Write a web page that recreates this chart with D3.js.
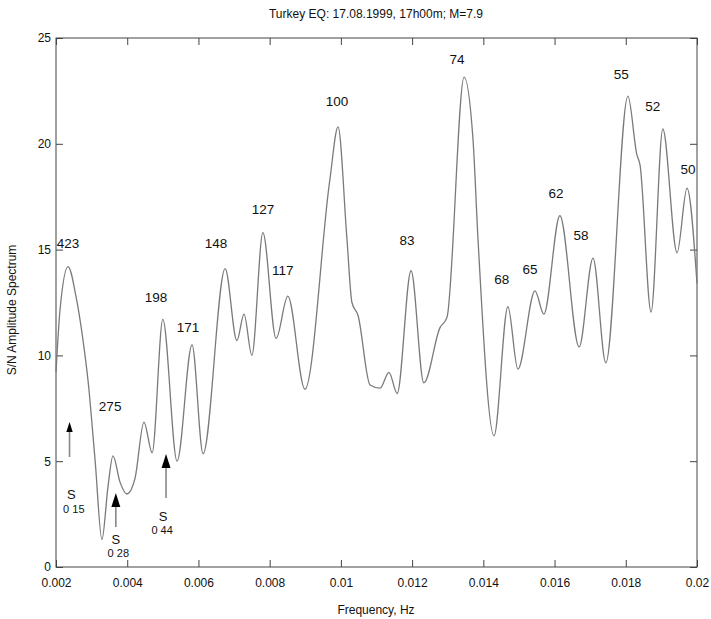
<!DOCTYPE html>
<html>
<head>
<meta charset="utf-8">
<script src="https://cdn.jsdelivr.net/npm/d3@7"></script>
<style>
  html, body { margin: 0; padding: 0; background: #fff; }
  text { font-family: "Liberation Sans", Arial, sans-serif; fill: #111; }
</style>
</head>
<body>
<svg id="chart" width="711" height="619"></svg>
<script>
// Spectrum samples: frequency (Hz) and S/N amplitude
const freq = [0.00200, 0.00211, 0.00234, 0.00256, 0.00276, 0.00290, 0.00310, 0.00329, 0.00346, 0.00360,
  0.00380, 0.00399, 0.00422, 0.00447, 0.00470, 0.00500, 0.00540, 0.00582, 0.00613, 0.00675,
  0.00708, 0.00728, 0.00750, 0.00781, 0.00818, 0.00851, 0.00899, 0.00969, 0.00992, 0.01017,
  0.01031, 0.01048, 0.01082, 0.01110, 0.01135, 0.01158, 0.01197, 0.01233, 0.01278, 0.01298,
  0.01346, 0.01371, 0.01385, 0.01430, 0.01469, 0.01497, 0.01545, 0.01570, 0.01615, 0.01669,
  0.01708, 0.01744, 0.01806, 0.01831, 0.01840, 0.01871, 0.01904, 0.01944, 0.01972, 0.02000];
const amplitude = [9.2, 12.1, 14.2, 12.8, 10.7, 8.8, 5.0, 1.3, 3.8, 5.25,
  4.0, 3.45, 4.2, 6.85, 5.4, 11.7, 5.0, 10.5, 5.35, 14.1,
  10.7, 11.95, 10.0, 15.8, 10.8, 12.8, 8.4, 18.3, 20.8, 15.5,
  12.5, 11.9, 8.6, 8.45, 9.2, 8.2, 14.0, 8.7, 11.3, 11.8,
  23.15, 20.2, 15.5, 6.2, 12.3, 9.35, 13.05, 11.95, 16.6, 10.4,
  14.6, 9.65, 22.25, 19.5, 19.0, 12.05, 20.7, 14.85, 17.9, 13.4];

// Peak period labels (s) and where they sit (frequency, amplitude)
const peakLabels = ["423", "275", "198", "171", "148", "127", "117", "100", "74", "83",
  "68", "65", "62", "58", "55", "52", "50"];
const peakLabelFreq = [0.00234, 0.00352, 0.00481, 0.00571, 0.00649, 0.00781, 0.00837, 0.00989, 0.01326, 0.01186,
  0.01452, 0.01531, 0.01604, 0.01674, 0.01787, 0.01876, 0.01975];
const peakLabelAmp = [15.3, 7.6, 12.76, 11.34, 15.31, 16.92, 14.04, 22.02, 24.0, 15.45,
  13.61, 14.08, 17.67, 15.69, 23.3, 21.79, 18.81];

// Arrow markers for S subscripts
const arrowSub = ["0 15", "0 28", "0 44"];
const arrowFreq = [0.00238, 0.00368, 0.00509];
const arrowFrom = [5.2, 1.89, 3.26];
const arrowTo = [6.85, 3.5, 5.34];
const arrowHead = [1.0, 1.4, 1.4];
const sLabelFreq = [0.00243, 0.00368, 0.00501];
const sLabelAmp = [3.45, 1.32, 2.41];
const subLabelFreq = [0.00250, 0.00375, 0.00498];
const subLabelAmp = [2.74, 0.66, 1.75];

// Axis ticks
const xTicks = [0.002, 0.004, 0.006, 0.008, 0.01, 0.012, 0.014, 0.016, 0.018, 0.02];
const xTickLabels = ["0.002", "0.004", "0.006", "0.008", "0.01", "0.012", "0.014", "0.016", "0.018", "0.02"];
const yTicks = [0, 5, 10, 15, 20, 25];

const svg = d3.select("#chart");
const plotLeft = 56, plotRight = 697, plotTop = 38, plotBottom = 567;
const x = d3.scaleLinear().domain([0.002, 0.02]).range([plotLeft, plotRight]);
const y = d3.scaleLinear().domain([0, 25]).range([plotBottom, plotTop]);

const axisColor = "#444";
const tickLen = 7;

// Frame
svg.append("rect")
  .attr("x", plotLeft).attr("y", plotTop)
  .attr("width", plotRight - plotLeft).attr("height", plotBottom - plotTop)
  .attr("fill", "none").attr("stroke", axisColor).attr("stroke-width", 1);

// Bottom and top ticks
const xAxisBottom = d3.axisBottom(x).tickValues(xTicks)
  .tickFormat((d, i) => xTickLabels[i]).tickSizeInner(-tickLen).tickSizeOuter(0).tickPadding(11);
const gxb = svg.append("g").attr("transform", `translate(0,${plotBottom})`).call(xAxisBottom);
const xAxisTop = d3.axisTop(x).tickValues(xTicks).tickFormat("").tickSizeInner(-tickLen).tickSizeOuter(0);
const gxt = svg.append("g").attr("transform", `translate(0,${plotTop})`).call(xAxisTop);

// Left and right ticks
const yAxisLeft = d3.axisLeft(y).tickValues(yTicks).tickSizeInner(-tickLen).tickSizeOuter(0).tickPadding(5);
const gyl = svg.append("g").attr("transform", `translate(${plotLeft},0)`).call(yAxisLeft);
const yAxisRight = d3.axisRight(y).tickValues(yTicks).tickFormat("").tickSizeInner(-tickLen).tickSizeOuter(0);
const gyr = svg.append("g").attr("transform", `translate(${plotRight},0)`).call(yAxisRight);

[gxb, gxt, gyl, gyr].forEach(g => {
  g.select(".domain").remove();
  g.selectAll(".tick line").attr("stroke", axisColor);
  g.selectAll(".tick text").attr("font-size", 12)
    .attr("font-family", "'Liberation Sans', Arial, sans-serif").attr("fill", "#111");
});

// Spectrum curve
const pts = freq.map((f, i) => [f, amplitude[i]]);
const line = d3.line().x(d => x(d[0])).y(d => y(d[1])).curve(d3.curveMonotoneX);
svg.append("path").datum(pts)
  .attr("d", line)
  .attr("fill", "none").attr("stroke", "#7a7a7a").attr("stroke-width", 1.3);

// Peak labels
svg.append("g").selectAll("text").data(peakLabels).join("text")
  .attr("x", (d, i) => x(peakLabelFreq[i]))
  .attr("y", (d, i) => y(peakLabelAmp[i]))
  .attr("dy", "0.36em")
  .attr("text-anchor", "middle")
  .attr("font-size", 13.5)
  .text(d => d);

// Arrows
const ag = svg.append("g");
arrowSub.forEach((s, i) => {
  const xa = x(arrowFreq[i]);
  const yTip = y(arrowTo[i]);
  const hl = 10 * arrowHead[i], hw = 3.2 * arrowHead[i];
  ag.append("line")
    .attr("x1", xa).attr("x2", xa)
    .attr("y1", y(arrowFrom[i])).attr("y2", yTip + hl - 1)
    .attr("stroke", "#888").attr("stroke-width", 1.6);
  ag.append("path")
    .attr("d", `M${xa},${yTip} L${xa - hw},${yTip + hl} L${xa + hw},${yTip + hl} Z`)
    .attr("fill", "#000");
  ag.append("text")
    .attr("x", x(sLabelFreq[i])).attr("y", y(sLabelAmp[i]))
    .attr("dy", "0.36em").attr("text-anchor", "middle")
    .attr("font-size", 13).text("S");
  ag.append("text")
    .attr("x", x(subLabelFreq[i])).attr("y", y(subLabelAmp[i]))
    .attr("dy", "0.36em").attr("text-anchor", "middle")
    .attr("font-size", 11).text(s);
});

// Title and axis titles
svg.append("text").attr("x", 376).attr("y", 18).attr("text-anchor", "middle")
  .attr("font-size", 12).text("Turkey EQ: 17.08.1999, 17h00m; M=7.9");
svg.append("text").attr("x", 376).attr("y", 614).attr("text-anchor", "middle")
  .attr("font-size", 12).text("Frequency, Hz");
svg.append("text")
  .attr("transform", "translate(16,310) rotate(-90)")
  .attr("text-anchor", "middle")
  .attr("font-size", 12).text("S/N Amplitude Spectrum");
</script>
</body>
</html>
